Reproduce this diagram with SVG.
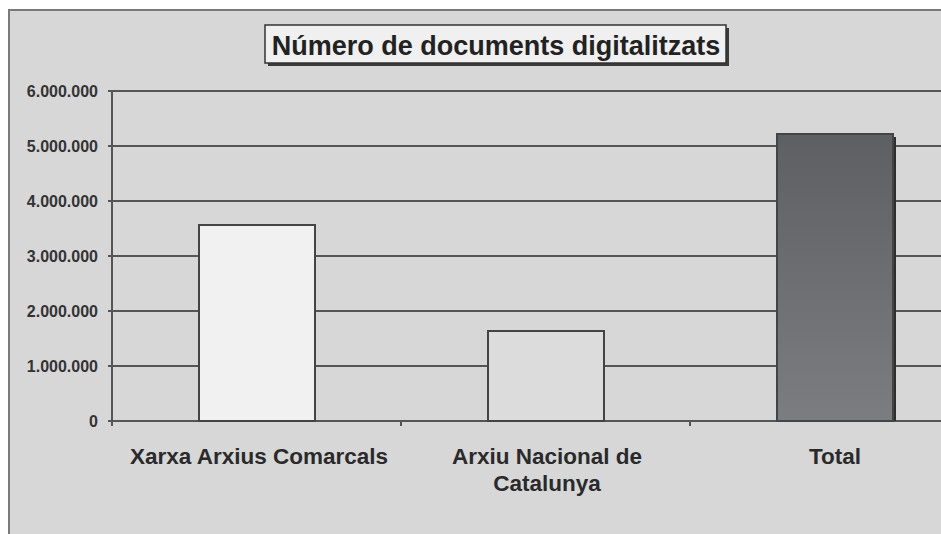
<svg xmlns="http://www.w3.org/2000/svg" width="941" height="534" viewBox="0 0 941 534">
<style>
.grid{stroke:#555;stroke-width:2;fill:none}
.ax{font-family:"Liberation Sans",Arial,sans-serif;font-weight:bold;font-size:16px;fill:#333;text-anchor:end}
.cat{font-family:"Liberation Sans",Arial,sans-serif;font-weight:bold;font-size:22.5px;fill:#2a2a2a;text-anchor:middle}
.bar{stroke:#444;stroke-width:2}
</style>
<defs>
<linearGradient id="g3" x1="0" y1="0" x2="0" y2="1">
<stop offset="0" stop-color="#5e5f62"/>
<stop offset="1" stop-color="#7c7d80"/>
</linearGradient>
</defs>
<rect width="941" height="534" fill="#ffffff"/>
<rect x="9" y="10" width="940" height="530" fill="#d7d7d8" stroke="#7a7a7a" stroke-width="2"/>
<g id="axes">
<line class="grid" x1="108" y1="91" x2="941" y2="91"/>
<line class="grid" x1="108" y1="146" x2="941" y2="146"/>
<line class="grid" x1="108" y1="201" x2="941" y2="201"/>
<line class="grid" x1="108" y1="256" x2="941" y2="256"/>
<line class="grid" x1="108" y1="311" x2="941" y2="311"/>
<line class="grid" x1="108" y1="366" x2="941" y2="366"/>
<line class="grid" x1="108" y1="421" x2="941" y2="421"/>
<line class="grid" x1="112" y1="91" x2="112" y2="426"/>
<line class="grid" x1="401" y1="421" x2="401" y2="426"/>
<line class="grid" x1="690" y1="421" x2="690" y2="426"/>
<text class="ax" x="98" y="97">6.000.000</text>
<text class="ax" x="98" y="152">5.000.000</text>
<text class="ax" x="98" y="207">4.000.000</text>
<text class="ax" x="98" y="262">3.000.000</text>
<text class="ax" x="98" y="317">2.000.000</text>
<text class="ax" x="98" y="372">1.000.000</text>
<text class="ax" x="98" y="427">0</text>
</g>
<g id="bar-xarxa">
<rect class="bar" x="199" y="225" width="116" height="196" fill="#f1f1f1"/>
<text class="cat" x="259" y="464">Xarxa Arxius Comarcals</text>
</g>
<g id="bar-anc">
<rect class="bar" x="488" y="331" width="116" height="90" fill="#dcdcdd"/>
<text class="cat" x="547" y="464">Arxiu Nacional de</text>
<text class="cat" x="547" y="491">Catalunya</text>
</g>
<g id="bar-total">
<rect x="780" y="137" width="116" height="284" fill="#2e2e2e"/>
<rect class="bar" x="777" y="134" width="116" height="287" fill="url(#g3)"/>
<text class="cat" x="835" y="464">Total</text>
</g>
<g id="title">
<rect x="268" y="28" width="461" height="38" fill="#3a3a3a"/>
<rect x="265" y="25" width="461" height="38" fill="#f0f0f0" stroke="#333" stroke-width="1.5"/>
<text x="496" y="55" font-family="'Liberation Sans',Arial,sans-serif" font-weight="bold" font-size="27" fill="#222" text-anchor="middle">Número de documents digitalitzats</text>
</g>
</svg>
